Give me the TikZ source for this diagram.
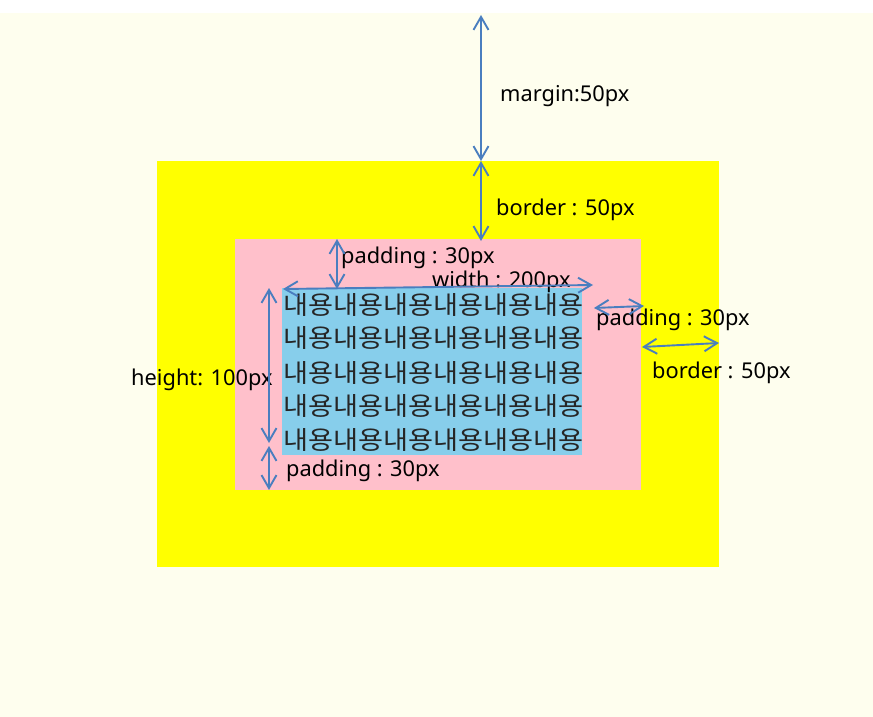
\documentclass[tikz,border=0pt]{standalone}
\usepackage{fontspec}
\setmainfont{Noto Sans}
\newfontfamily\krfont[FakeStretch=1.07]{Noto Sans CJK KR}
\usetikzlibrary{arrows.meta}
\definecolor{bgivory}{HTML}{FEFEEE}
\definecolor{boxyellow}{HTML}{FFFF00}
\definecolor{boxpink}{HTML}{FFC0CB}
\definecolor{boxblue}{HTML}{87CEEB}
\definecolor{dimblue}{HTML}{4A7EBF}
\begin{document}
\begin{tikzpicture}[x=1pt,y=-1pt,
  dimline/.style={draw=dimblue, line width=1.9pt,
    {Straight Barb[length=13pt,width=15pt]}-{Straight Barb[length=13pt,width=15pt]}},
  lbl/.style={anchor=base west, inner sep=0pt, font=\fontsize{21.8}{24}\selectfont},
  kor/.style={anchor=west, inner sep=0pt, text=black!85, font=\krfont\fontsize{25.4}{28}\selectfont},
  area/.style={anchor=north west, inner sep=0pt, outer sep=0pt, draw=none}]
\useasboundingbox (0,0) rectangle (873,717);
\fill[white] (0,0) rectangle (873,717);
\node[area, fill=bgivory, minimum width=873pt, minimum height=704pt] (marginbox) at (0,13) {};
\node[area, fill=boxyellow, minimum width=562pt, minimum height=406pt] (borderbox) at (157,161) {};
\node[area, fill=boxpink, minimum width=406pt, minimum height=251pt] (paddingbox) at (235,239) {};
\node[area, fill=boxblue, minimum width=300pt, minimum height=167pt] (contentbox) at (282,288) {};

% Korean content
\node[kor] (k1) at (283,304.5) {내용내용내용내용내용내용};
\node[kor] (k2) at (283,338) {내용내용내용내용내용내용};
\node[kor] (k3) at (283,372.5) {내용내용내용내용내용내용};
\node[kor] (k4) at (283,406) {내용내용내용내용내용내용};
\node[kor] (k5) at (283,439.5) {내용내용내용내용내용내용};

% labels
\node[lbl] (lmargin) at (500,101) {margin:50px};
\node[lbl] (lbordertop) at (496,215) {border : 50px};
\node[lbl] (lpadtop) at (341,263) {padding : 30px};
\node[lbl] (lwidth) at (432,287) {width : 200px};
\node[lbl] (lpadright) at (596,325) {padding : 30px};
\node[lbl] (lborderright) at (652,378) {border : 50px};
\node[lbl] (lheight) at (131,385) {height: 100px};
\node[lbl] (lpadbottom) at (286,476) {padding : 30px};

% arrow endpoints
\coordinate (m1) at (481,15);
\coordinate (m2) at (481,161);
\coordinate (b2) at (481,241);
\coordinate (pt1) at (337,239);
\coordinate (pt2) at (337,289);
\coordinate (w1) at (283,289);
\coordinate (w2) at (593,285);
\coordinate (pr1) at (594,308);
\coordinate (pr2) at (644,306);
\coordinate (br1) at (642,347);
\coordinate (br2) at (719,343);
\coordinate (h1) at (269,288);
\coordinate (h2) at (269,443);
\coordinate (pb1) at (269,446);
\coordinate (pb2) at (269,490);

\draw[dimline] (m1) -- (m2);
\draw[dimline] (m2) -- (b2);
\draw[dimline] (pt1) -- (pt2);
\draw[dimline] (w1) -- (w2);
\draw[dimline] (pr1) -- (pr2);
\draw[dimline] (br1) -- (br2);
\draw[dimline] (h1) -- (h2);
\draw[dimline] (pb1) -- (pb2);
\end{tikzpicture}
\end{document}
